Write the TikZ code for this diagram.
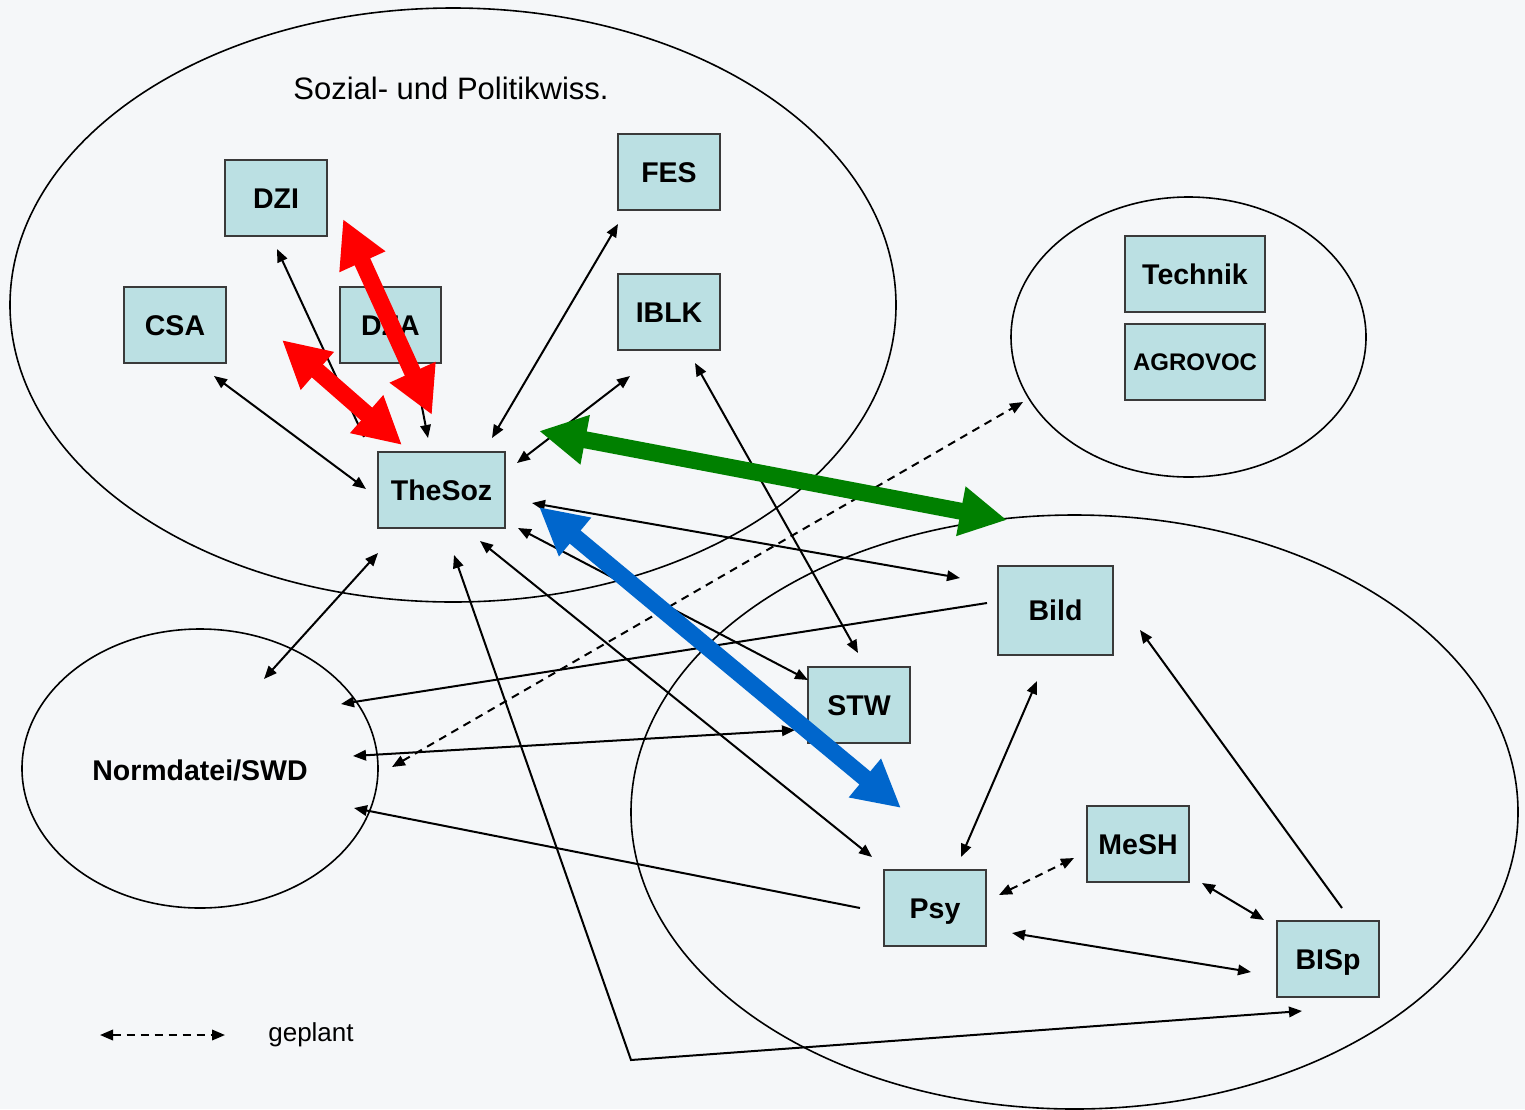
\documentclass[tikz,border=0pt]{standalone}
\usepackage{fontspec}
\setmainfont{Liberation Sans}
\usetikzlibrary{arrows.meta}
\definecolor{bgc}{HTML}{F5F7F9}
\definecolor{boxc}{HTML}{BBE0E3}
\definecolor{boxline}{HTML}{3A3A3A}
\definecolor{redc}{HTML}{FF0000}
\definecolor{greenc}{HTML}{008000}
\definecolor{bluec}{HTML}{0066CC}
\begin{document}
\begin{tikzpicture}[x=1pt,y=-1pt,
  box/.style={draw=boxline,line width=1.6pt,fill=boxc,inner sep=0pt,minimum width=102pt,minimum height=76pt,text height=21pt,text depth=1pt,font=\fontsize{28.5}{34}\selectfont\bfseries},
  ell/.style={draw=black,line width=1.6pt},
  tipT/.tip={Triangle[length=13pt,width=10.5pt]},
  conn/.style={line width=2pt,-tipT},
  conn2/.style={line width=2pt,tipT-tipT},
  dconn/.style={conn2,dash pattern=on 8pt off 6pt},
  fat/.style={line width=17pt,{Triangle[length=47pt,width=47pt]}-{Triangle[length=47pt,width=47pt]}}]
\useasboundingbox (0,0) rectangle (1525,1109);
\fill[bgc] (0,0) rectangle (1525,1109);
\clip (0,0) rectangle (1525,1109);
% ellipses
\draw[ell] (453,305) ellipse [x radius=443, y radius=297];
\draw[ell] (1188.5,337) ellipse [x radius=177.5, y radius=140];
\draw[ell] (1074.5,812) ellipse [x radius=443.5, y radius=297];
\draw[ell] (200,768.5) ellipse [x radius=178, y radius=139.5];
% texts
\node[font=\fontsize{31}{36}\selectfont] (title) at (451,88) {Sozial- und Politikwiss.};
\node[font=\fontsize{28.5}{34}\selectfont\bfseries,text height=21pt,text depth=1pt] (swd) at (200,770) {Normdatei/SWD};
\node[font=\fontsize{26}{30}\selectfont] (geplant) at (311,1035) {geplant};
% boxes
\node[box] (DZI) at (276,198) {DZI};
\node[box] (CSA) at (175,325) {CSA};
\node[box,minimum width=101pt] (DZA) at (390.5,325) {DZA};
\node[box] (FES) at (669,172) {FES};
\node[box] (IBLK) at (669,312) {IBLK};
\node[box,minimum width=127pt] (TheSoz) at (441.5,490) {TheSoz};
\node[box,minimum width=140pt] (Technik) at (1195,274) {Technik};
\node[box,minimum width=140pt,text height=18pt,font=\fontsize{24}{28}\selectfont\bfseries] (AGROVOC) at (1195,362) {AGROVOC};
\node[box,minimum width=115pt,minimum height=89pt] (Bild) at (1055.5,610.5) {Bild};
\node[box] (STW) at (859,705) {STW};
\node[box] (Psy) at (935,908) {Psy};
\node[box] (MeSH) at (1138,844) {MeSH};
\node[box] (BISp) at (1328,959) {BISp};
% connector end points
\coordinate (dziE) at (277,249);   \coordinate (sozA) at (364,437);
\coordinate (dzaE) at (414,366);   \coordinate (sozB) at (428,438);
\coordinate (csaE) at (214,376);   \coordinate (sozC) at (366,489);
\coordinate (fesE) at (618,224);   \coordinate (sozD) at (492,438);
\coordinate (iblkE) at (630,376);  \coordinate (sozE) at (517,463);
\coordinate (iblkF) at (695,363);  \coordinate (stwA) at (858,653);
\coordinate (sozF) at (532,503);   \coordinate (bildA) at (960,578);
\coordinate (sozG) at (518,528);   \coordinate (stwB) at (808,680);
\coordinate (sozH) at (480,541);   \coordinate (psyA) at (872,857);
\coordinate (sozI) at (378,553);   \coordinate (swdA) at (264,679);
\coordinate (sozJ) at (454,555);   \coordinate (bend) at (631,1060); \coordinate (bispA) at (1302,1011);
\coordinate (bildB) at (987,603);  \coordinate (swdB) at (341,704);
\coordinate (stwC) at (795,730);   \coordinate (swdC) at (353,756);
\coordinate (psyB) at (860,908);   \coordinate (swdD) at (354,808);
\coordinate (bildC) at (1037,681); \coordinate (psyC) at (961,857);
\coordinate (psyD) at (1012,933);  \coordinate (bispB) at (1251,972);
\coordinate (meshA) at (1202,883); \coordinate (bispC) at (1264,920);
\coordinate (bispD) at (1342,908); \coordinate (bildD) at (1140,630);
\coordinate (swdE) at (392,767);   \coordinate (techE) at (1023,402);
\coordinate (psyE) at (999,895);   \coordinate (meshB) at (1074,858);
\coordinate (legA) at (100,1035);  \coordinate (legB) at (225,1035);
\coordinate (redA) at (343,219);   \coordinate (redB) at (432,415);
\coordinate (redC) at (282,340);   \coordinate (redD) at (402,445);
\coordinate (grA) at (539,431);    \coordinate (grB) at (1007,520);
\coordinate (blA) at (539,507);    \coordinate (blB) at (901,808);
% thin connectors
\draw[conn] (sozA) -- (dziE);
\draw[conn] (dzaE) -- (sozB);
\draw[conn2] (csaE) -- (sozC);
\draw[conn2] (fesE) -- (sozD);
\draw[conn2] (iblkE) -- (sozE);
\draw[conn2] (iblkF) -- (stwA);
\draw[conn2] (sozF) -- (bildA);
\draw[conn2] (sozG) -- (stwB);
\draw[conn2] (sozH) -- (psyA);
\draw[conn2] (sozI) -- (swdA);
\draw[conn2] (sozJ) -- (bend) -- (bispA);
\draw[conn] (bildB) -- (swdB);
\draw[conn2] (stwC) -- (swdC);
\draw[conn] (psyB) -- (swdD);
\draw[conn2] (bildC) -- (psyC);
\draw[conn2] (psyD) -- (bispB);
\draw[conn2] (meshA) -- (bispC);
\draw[conn] (bispD) -- (bildD);
\draw[dconn] (swdE) -- (techE);
\draw[dconn] (psyE) -- (meshB);
\draw[dconn] (legA) -- (legB);
% thick connectors
\draw[fat,redc] (redA) -- (redB);
\draw[fat,redc] (redC) -- (redD);
\draw[fat,greenc] (grA) -- (grB);
\draw[fat,bluec] (blA) -- (blB);
\end{tikzpicture}
\end{document}
